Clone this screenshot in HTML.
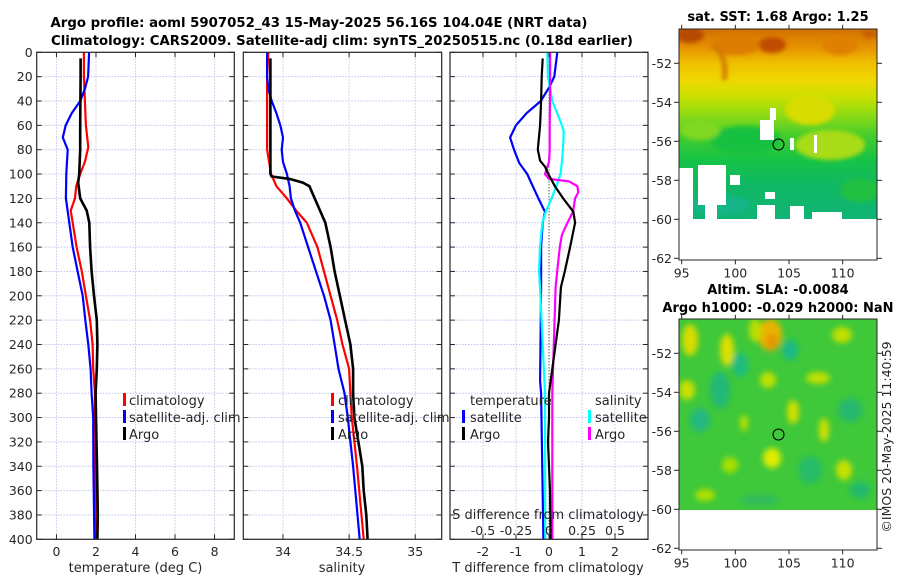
<!DOCTYPE html>
<html><head><meta charset="utf-8"><style>
html,body{margin:0;padding:0;background:#fff;}
svg{display:block;font-family:"DejaVu Sans","Liberation Sans",sans-serif;}
</style></head><body>
<svg id="fig" width="900" height="580" viewBox="0 0 900 580" xmlns="http://www.w3.org/2000/svg">
<defs>
<linearGradient id="sstg" x1="0" y1="0" x2="0" y2="1">
<stop offset="0" stop-color="#d26f00"/><stop offset="0.1" stop-color="#e69400"/>
<stop offset="0.18" stop-color="#f0c000"/><stop offset="0.27" stop-color="#eed800"/>
<stop offset="0.36" stop-color="#c8e000"/><stop offset="0.45" stop-color="#90dc14"/>
<stop offset="0.56" stop-color="#44cc2c"/><stop offset="0.68" stop-color="#18c444"/>
<stop offset="0.82" stop-color="#10b864"/><stop offset="1" stop-color="#10b474"/>
</linearGradient>
<filter id="blur3"><feGaussianBlur stdDeviation="3"/></filter>
<filter id="blur2"><feGaussianBlur stdDeviation="2"/></filter>
<clipPath id="clipTop"><rect x="679" y="29" width="198" height="190"/></clipPath>
<clipPath id="clipBot"><rect x="679" y="319" width="198" height="191"/></clipPath>
</defs>

<text x="319" y="27" text-anchor="middle" font-weight="bold" font-size="13" textLength="537" lengthAdjust="spacingAndGlyphs">Argo profile: aoml 5907052_43 15-May-2025 56.16S 104.04E (NRT data)</text>
<text x="342" y="45" text-anchor="middle" font-weight="bold" font-size="13" textLength="582" lengthAdjust="spacingAndGlyphs">Climatology: CARS2009. Satellite-adj clim: synTS_20250515.nc (0.18d earlier)</text>

<g id="p1"></g>
<g id="p2"></g>
<g id="p3"></g>

<!-- top map -->
<g>
<text x="778" y="21" text-anchor="middle" font-weight="bold" font-size="13">sat. SST: 1.68 Argo: 1.25</text>
<g clip-path="url(#clipTop)">
<rect x="679" y="29" width="198" height="190" fill="url(#sstg)"/>
<g filter="url(#blur2)">
<ellipse cx="690" cy="35" rx="14" ry="8" fill="#b84800"/>
<ellipse cx="772" cy="45" rx="14" ry="8" fill="#c04c00"/>
<ellipse cx="735" cy="45" rx="25" ry="10" fill="#dc7c00"/>
<ellipse cx="840" cy="45" rx="18" ry="10" fill="#de8000"/>
<ellipse cx="870" cy="33" rx="8" ry="5" fill="#c86000"/>
<path d="M715 45 Q728 60 724 80" stroke="#d07a00" stroke-width="5" fill="none"/>
<ellipse cx="830" cy="145" rx="35" ry="15" fill="#a8dc14"/>
<ellipse cx="810" cy="110" rx="25" ry="15" fill="#d8dc00"/>
<ellipse cx="745" cy="140" rx="35" ry="14" fill="#18c040"/>
<ellipse cx="700" cy="130" rx="20" ry="10" fill="#80d820"/>
<ellipse cx="860" cy="190" rx="20" ry="12" fill="#20c040"/>
<ellipse cx="720" cy="205" rx="30" ry="10" fill="#12b488"/>
</g>
<rect x="760" y="120" width="14" height="20" fill="#fff"/>
<rect x="770" y="108" width="6" height="12" fill="#fff"/>
<rect x="790" y="138" width="4" height="12" fill="#fff"/>
<rect x="814" y="135" width="3" height="18" fill="#fff"/>
<rect x="679" y="168" width="14" height="51" fill="#fff"/>
<rect x="698" y="165" width="28" height="40" fill="#fff"/>
<rect x="705" y="200" width="12" height="19" fill="#fff"/>
<rect x="730" y="175" width="10" height="10" fill="#fff"/>
<rect x="757" y="205" width="18" height="14" fill="#fff"/>
<rect x="790" y="206" width="14" height="13" fill="#fff"/>
<rect x="812" y="212" width="30" height="7" fill="#fff"/>
<rect x="765" y="192" width="10" height="7" fill="#fff"/>
</g>
<circle cx="778.5" cy="144.5" r="5.5" fill="none" stroke="#000" stroke-width="1"/>
<rect x="679" y="29" width="198" height="231" fill="none" stroke="#262626" stroke-width="1"/>
<g id="m1ticks"></g>
</g>

<!-- bottom map -->
<g>
<text x="778" y="294" text-anchor="middle" font-weight="bold" font-size="13">Altim. SLA: -0.0084</text>
<text x="778" y="312" text-anchor="middle" font-weight="bold" font-size="13">Argo h1000: -0.029 h2000: NaN</text>
<g clip-path="url(#clipBot)">
<rect x="679" y="319" width="198" height="191" fill="#3ec83a"/>
<g filter="url(#blur3)">
<ellipse cx="770" cy="335" rx="12" ry="16" fill="#e8b400"/>
<ellipse cx="772" cy="342" rx="6" ry="8" fill="#e89400"/>
<ellipse cx="690" cy="340" rx="8" ry="16" fill="#d8dc00"/>
<ellipse cx="727" cy="350" rx="7" ry="16" fill="#dce000"/>
<ellipse cx="687" cy="390" rx="8" ry="10" fill="#c8e000"/>
<ellipse cx="755" cy="330" rx="6" ry="12" fill="#b8e000"/>
<ellipse cx="842" cy="335" rx="10" ry="8" fill="#c0e000"/>
<ellipse cx="768" cy="380" rx="8" ry="8" fill="#c0e000"/>
<ellipse cx="818" cy="378" rx="12" ry="6" fill="#c0e000"/>
<ellipse cx="793" cy="412" rx="6" ry="12" fill="#d0e000"/>
<ellipse cx="772" cy="458" rx="9" ry="10" fill="#e0ec00"/>
<ellipse cx="824" cy="430" rx="5" ry="12" fill="#d0e000"/>
<ellipse cx="844" cy="470" rx="8" ry="10" fill="#c8e000"/>
<ellipse cx="744" cy="423" rx="4" ry="8" fill="#b8e000"/>
<ellipse cx="705" cy="495" rx="10" ry="6" fill="#b0e000"/>
<ellipse cx="730" cy="465" rx="8" ry="8" fill="#a8e000"/>
<ellipse cx="720" cy="390" rx="10" ry="18" fill="#22b878"/>
<ellipse cx="700" cy="420" rx="10" ry="12" fill="#20b880"/>
<ellipse cx="740" cy="365" rx="8" ry="12" fill="#1cbc80"/>
<ellipse cx="790" cy="350" rx="8" ry="10" fill="#1cb888"/>
<ellipse cx="850" cy="410" rx="12" ry="12" fill="#28b870"/>
<ellipse cx="810" cy="470" rx="12" ry="14" fill="#28bc68"/>
<ellipse cx="860" cy="490" rx="10" ry="8" fill="#20b870"/>
<ellipse cx="760" cy="500" rx="20" ry="6" fill="#30bc5c"/>
</g>
</g>
<rect x="679" y="510" width="198" height="40" fill="#fff"/>
<circle cx="778.5" cy="434.5" r="5.5" fill="none" stroke="#000" stroke-width="1"/>
<rect x="679" y="319" width="198" height="231" fill="none" stroke="#262626" stroke-width="1"/>
<g id="m2ticks"></g>
</g>
<text transform="translate(891,437) rotate(-90)" text-anchor="middle" font-size="12.5" fill="#262626">©IMOS 20-May-2025 11:40:59</text>
</svg>
<script>
// ---- data ----
const depthTicks = [0,20,40,60,80,100,120,140,160,180,200,220,240,260,280,300,320,340,360,380,400];
const tTicks = [0,2,4,6,8];
const sTicks = [34,34.5,35];
const sTickLabels = ["34","34.5","35"];
const dTicks = [-2,-1,0,1,2];
const dsTickLabels = ["-0.5","-0.25","0","0.25","0.5"];
const dsTickVals = [-0.5,-0.25,0,0.25,0.5];

// temperature panel
const tArgoDepth = [5,20,40,60,80,100,107,120,130,140,160,180,200,220,240,260,280,300,340,380,400];
const tArgo = [1.22,1.22,1.21,1.2,1.2,1.15,1.1,1.2,1.53,1.66,1.7,1.78,1.9,2.04,2.07,2.04,1.98,2.0,2.05,2.09,2.07];
const tClimDepth = [0,20,40,60,78,90,100,110,120,130,140,160,180,200,220,240,260,280,300,340,400];
const tClim = [1.39,1.39,1.44,1.49,1.61,1.44,1.2,1.0,0.94,0.72,0.82,1.02,1.28,1.49,1.7,1.83,1.86,1.95,1.94,1.98,1.98];
const tSatDepth = [0,20,30,40,50,60,70,80,100,120,140,160,180,200,220,240,260,280,300,340,400];
const tSat = [1.65,1.6,1.44,1.2,0.77,0.47,0.32,0.57,0.5,0.48,0.65,0.82,1.07,1.33,1.46,1.61,1.73,1.78,1.86,1.87,1.92];

// salinity panel
const sArgoDepth = [5,20,40,60,80,100,102,104,107,110,120,140,160,180,200,220,240,260,280,300,320,340,360,380,400];
const sArgo = [33.905,33.905,33.905,33.905,33.905,33.905,33.915,34.05,34.15,34.2,34.24,34.32,34.36,34.39,34.43,34.47,34.51,34.53,34.53,34.54,34.57,34.6,34.61,34.63,34.64];
const sClimDepth = [0,20,40,60,80,100,110,120,130,140,160,180,200,220,240,260,280,300,340,400];
const sClim = [33.89,33.88,33.88,33.88,33.88,33.91,33.95,34.03,34.1,34.18,34.26,34.31,34.36,34.41,34.45,34.5,34.51,34.52,34.56,34.61];
const sSatDepth = [0,20,30,40,50,60,70,80,90,100,110,120,130,140,160,180,200,220,240,260,280,300,340,400];
const sSat = [33.88,33.88,33.89,33.915,33.95,33.98,34.0,33.99,34.0,34.03,34.05,34.06,34.09,34.13,34.19,34.25,34.31,34.36,34.39,34.42,34.465,34.49,34.53,34.58];

// difference panel (T in deg C, S in psu)
const dTArgoDepth = [5,20,40,60,80,89,94,100,110,120,131,140,160,180,193,220,240,260,280,300,320,340,360,400];
const dTArgo = [-0.19,-0.22,-0.24,-0.27,-0.34,-0.27,-0.12,-0.02,0.18,0.43,0.74,0.79,0.64,0.48,0.36,0.3,0.2,0.1,0.0,0.0,-0.03,0.0,0.03,0.05];
const dTSatDepth = [0,20,29,40,50,60,70,80,91,100,120,131,140,160,180,193,270,280,400];
const dTSat = [0.25,0.16,0.0,-0.25,-0.68,-1.0,-1.18,-1.06,-0.9,-0.66,-0.32,-0.12,-0.19,-0.24,-0.24,-0.24,-0.27,-0.24,-0.17];
const dSSatDepth = [0,20,40,50,60,65,80,90,100,110,120,131,140,160,180,193,280,400];
const dSSat = [-0.013,-0.008,0.025,0.062,0.098,0.112,0.105,0.098,0.088,0.055,0.02,-0.025,-0.05,-0.068,-0.075,-0.068,-0.03,-0.028];
const dSArgoDepth = [0,20,40,60,80,90,100,104,106,110,115,120,131,140,150,160,180,193,280,400];
const dSArgo = [0.008,0.008,0.008,0.005,0.005,0.0,-0.03,0.0,0.152,0.215,0.222,0.198,0.182,0.14,0.098,0.082,0.062,0.05,0.025,0.025];

// map ticks
const latTicks = [-52,-54,-56,-58,-60,-62];
const lonTicks = [95,100,105,110];

// ---- helpers ----
const NS = "http://www.w3.org/2000/svg";
const Y0 = 52.3, Y1 = 539.3;
function yD(d){ return Y0 + (d/400)*(Y1-Y0); }
function mk(tag, attrs, parent){
  const e = document.createElementNS(NS, tag);
  for (const k in attrs) e.setAttribute(k, attrs[k]);
  parent.appendChild(e);
  return e;
}
function panel(g, x0, x1, xmin, xmax){
  return v => x0 + (v-xmin)/(xmax-xmin)*(x1-x0);
}
function frame(g, x0, x1, xgrid, xs){
  depthTicks.forEach(d => {
    const l = mk("line",{x1:x0,x2:x1,y1:yD(d),y2:yD(d),stroke:"#b9c3ef","stroke-width":1,"stroke-dasharray":"1.5,1.5"},g);
    
    
  });
  xgrid.forEach(v => {
    const l = mk("line",{x1:xs(v),x2:xs(v),y1:Y0,y2:Y1,stroke:"#c9c3e6","stroke-width":1,"stroke-dasharray":"1.5,1.5"},g);
    
    
  });
}
function axesBox(g, x0, x1, xgrid, xs, yLabels){
  depthTicks.forEach(d => {
    mk("line",{x1:x0,x2:x0+5,y1:yD(d),y2:yD(d),stroke:"#262626"},g);
    mk("line",{x1:x1-5,x2:x1,y1:yD(d),y2:yD(d),stroke:"#262626"},g);
    if (yLabels){
      const t = mk("text",{x:x0-4,y:yD(d)+4.5,"text-anchor":"end","font-size":12.5,fill:"#262626"},g);
      t.textContent = d;
      
      
    }
  });
  xgrid.forEach(v => {
    mk("line",{x1:xs(v),x2:xs(v),y1:Y0,y2:Y0+5,stroke:"#262626"},g);
    mk("line",{x1:xs(v),x2:xs(v),y1:Y1-5,y2:Y1,stroke:"#262626"},g);
  });
  const r = mk("rect",{x:x0,y:Y0,width:x1-x0,height:Y1-Y0,fill:"none",stroke:"#262626","stroke-width":1.2},g);
  
  
}
function line(g, xs, depths, vals, color, w, name){
  const pts = depths.map((d,i)=> xs(vals[i]).toFixed(1)+","+yD(d).toFixed(1)).join(" ");
  const p = mk("polyline",{points:pts,fill:"none",stroke:color,"stroke-width":w,"stroke-linejoin":"round"},g);
  
  
}
function xLabels(g, xs, vals, labels, y){
  vals.forEach((v,i)=>{
    const t = mk("text",{x:xs(v),y:y,"text-anchor":"middle","font-size":12.5,fill:"#262626"},g);
    t.textContent = labels[i];
    
    
  });
}
function txt(g, x, y, s, name, anchor){
  const t = mk("text",{x:x,y:y,"font-size":13,fill:"#262626","text-anchor":anchor||"start"},g);
  t.textContent = s;
  
  
  return t;
}
function legMark(g, x, y, color, name){
  const r = mk("rect",{x:x,y:y-11,width:3,height:13,fill:color},g);
  
  
}

// ---- panel 1 ----
const g1 = document.getElementById("p1");
const xs1 = panel(g1, 36.7, 234.3, -1, 9);
frame(g1, 36.7, 234.3, tTicks, xs1);
line(g1, xs1, tClimDepth, tClim, "#ff0000", 2.2, "temperature-climatology-line");
line(g1, xs1, tSatDepth, tSat, "#0000ff", 2.2, "temperature-satellite-line");
line(g1, xs1, tArgoDepth, tArgo, "#000000", 2.6, "temperature-argo-line");
axesBox(g1, 36.7, 234.3, tTicks, xs1, true);
xLabels(g1, xs1, tTicks, tTicks.map(String), 556);
txt(g1, 135.5, 572, "temperature (deg C)", "temperature-axis-title", "middle");
legMark(g1, 123, 404, "#ff0000", "legend-climatology-marker");
txt(g1, 129, 405, "climatology", "legend-climatology");
legMark(g1, 123, 421, "#0000ff", "legend-satellite-marker");
txt(g1, 129, 422, "satellite-adj. clim", "legend-satellite-adj");
legMark(g1, 123, 438, "#000000", "legend-argo-marker");
txt(g1, 129, 439, "Argo", "legend-argo");

// ---- panel 2 ----
const g2 = document.getElementById("p2");
const xs2 = panel(g2, 243.3, 441.7, 33.7, 35.2);
frame(g2, 243.3, 441.7, sTicks, xs2);
line(g2, xs2, sClimDepth, sClim, "#ff0000", 2.2, "salinity-climatology-line");
line(g2, xs2, sSatDepth, sSat, "#0000ff", 2.2, "salinity-satellite-line");
line(g2, xs2, sArgoDepth, sArgo, "#000000", 2.6, "salinity-argo-line");
axesBox(g2, 243.3, 441.7, sTicks, xs2, false);
xLabels(g2, xs2, sTicks, sTickLabels, 556);
txt(g2, 342, 572, "salinity", "salinity-axis-title", "middle");
legMark(g2, 331, 404, "#ff0000", "legend-climatology-marker");
txt(g2, 338, 405, "climatology", "legend-climatology");
legMark(g2, 331, 421, "#0000ff", "legend-satellite-marker");
txt(g2, 338, 422, "satellite-adj. clim", "legend-satellite-adj");
legMark(g2, 331, 438, "#000000", "legend-argo-marker");
txt(g2, 338, 439, "Argo", "legend-argo");

// ---- panel 3 ----
const g3 = document.getElementById("p3");
const xs3 = panel(g3, 450, 648, -3, 3);
const xs3s = v => xs3(v*4);
frame(g3, 450, 648, dTicks, xs3);
const zl = mk("line",{x1:xs3(0),x2:xs3(0),y1:yD(0),y2:yD(400),stroke:"#555","stroke-width":1.2,"stroke-dasharray":"1,2"},g3);


line(g3, xs3, dTSatDepth, dTSat, "#0000ff", 2.2, "t-diff-satellite-line");
line(g3, xs3s, dSSatDepth, dSSat, "#00ffff", 2.2, "s-diff-satellite-line");
line(g3, xs3s, dSArgoDepth, dSArgo, "#ff00ff", 2.2, "s-diff-argo-line");
line(g3, xs3, dTArgoDepth, dTArgo, "#000000", 2.2, "t-diff-argo-line");
axesBox(g3, 450, 648, dTicks, xs3, false);
xLabels(g3, xs3, dTicks, dTicks.map(String), 556);
txt(g3, 548, 572, "T difference from climatology", "t-diff-axis-title", "middle");
txt(g3, 548, 519, "S difference from climatology", "s-diff-axis-title", "middle");
xLabels(g3, xs3s, dsTickVals, dsTickLabels, 535);
txt(g3, 470, 405, "temperature", "legend-temperature-header");
legMark(g3, 462, 421, "#0000ff", "legend-t-satellite-marker");
txt(g3, 470, 422, "satellite", "legend-t-satellite");
legMark(g3, 462, 438, "#000000", "legend-t-argo-marker");
txt(g3, 470, 439, "Argo", "legend-t-argo");
txt(g3, 595, 405, "salinity", "legend-salinity-header");
legMark(g3, 588, 421, "#00ffff", "legend-s-satellite-marker");
txt(g3, 595, 422, "satellite", "legend-s-satellite");
legMark(g3, 588, 438, "#ff00ff", "legend-s-argo-marker");
txt(g3, 595, 439, "Argo", "legend-s-argo");

// ---- map ticks ----
function mapTicks(id, yTopTick){
  const g = document.getElementById(id);
  const lon = v => 681.7 + (v-95)*10.73;
  const lat = v => yTopTick + (-52 - v)*19.5;
  latTicks.forEach(v=>{
    mk("line",{x1:679,x2:674,y1:lat(v),y2:lat(v),stroke:"#262626"},g);
    mk("line",{x1:877,x2:882,y1:lat(v),y2:lat(v),stroke:"#262626"},g);
    const t = mk("text",{x:672,y:lat(v)+4.5,"text-anchor":"end","font-size":12.5,fill:"#262626"},g);
    t.textContent = v;
    
    
  });
  const yb = yTopTick + 10*19.5 + 2;
  lonTicks.forEach(v=>{
    mk("line",{x1:lon(v),x2:lon(v),y1:yb,y2:yb+4,stroke:"#262626"},g);
    mk("line",{x1:lon(v),x2:lon(v),y1:yTopTick-34.5,y2:yTopTick-38.5,stroke:"#262626"},g);
    const t = mk("text",{x:lon(v),y:yb+17,"text-anchor":"middle","font-size":12.5,fill:"#262626"},g);
    t.textContent = v;
    
    
  });
}
mapTicks("m1ticks", 63.3);
mapTicks("m2ticks", 353.3);
</script>
</body></html>
